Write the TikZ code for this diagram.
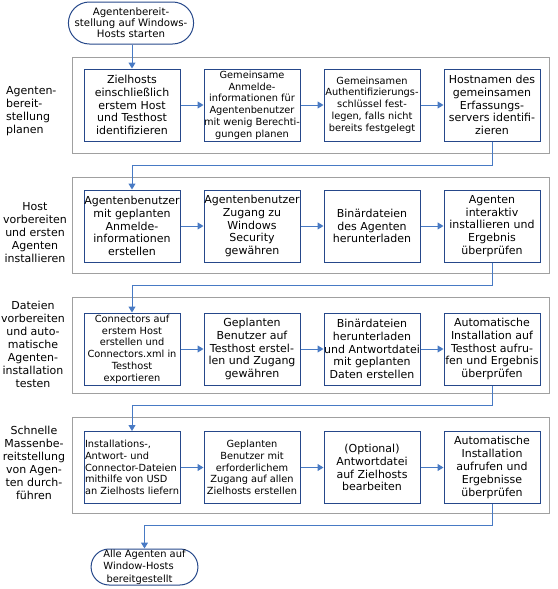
\documentclass[tikz,border=0pt]{standalone}
\usepackage{fontspec}
\setmainfont{DejaVu Sans}
\usetikzlibrary{arrows.meta,shapes.misc}

\definecolor{boxblue}{RGB}{38,72,138}
\definecolor{linkblue}{RGB}{72,122,196}
\definecolor{framegray}{RGB}{160,160,160}

\begin{document}
\begin{tikzpicture}[x=1pt,y=-1pt,
  stepbox/.style={draw=boxblue, line width=1pt, minimum width=96pt, minimum height=72pt, inner sep=0pt, align=center},
  bigtxt/.style={font=\fontsize{11}{12.8}\selectfont},
  smalltxt/.style={font=\fontsize{9.8}{11.8}\selectfont},
  frame/.style={draw=framegray, line width=1pt, minimum width=477pt, minimum height=96pt, inner sep=0pt},
  link/.style={draw=linkblue, line width=1pt, -{Triangle[length=6pt,width=7pt]}},
  terminal/.style={draw=boxblue, line width=1pt, rounded rectangle, inner sep=0pt, align=center},
  lane/.style={font=\fontsize{11}{13}\selectfont, inner sep=0pt}
]
\useasboundingbox (0,0) rectangle (557,589);

% frames
\node[frame] (f1) at (310.5,105) {};
\node[frame] (f2) at (310.5,225) {};
\node[frame] (f3) at (310.5,345) {};
\node[frame] (f4) at (310.5,465) {};

% lane labels
\node[lane, anchor=west, align=left] (l1) at (6,111) {Agenten-\\bereit-\\stellung\\planen};
\node[lane, align=center] (l2) at (35,233) {Host\\vorbereiten\\und ersten\\Agenten\\installieren};
\node[lane, align=center] (l3) at (33,344) {Dateien\\vorbereiten\\und auto-\\matische\\Agenten-\\installation\\testen};
\node[lane, align=center] (l4) at (34,463) {Schnelle\\Massenbe-\\reitstellung\\von Agen-\\ten durch-\\führen};

% terminals
\node[terminal, minimum width=116pt, minimum height=42pt, font=\fontsize{10.2}{11}\selectfont] (start) at (131,23) {Agentenbereit-\\stellung auf Windows-\\Hosts starten};
\node[terminal, minimum width=101pt, minimum height=36pt, align=left, font=\fontsize{9.9}{12.3}\selectfont] (end) at (144.5,567) {Alle Agenten auf\\Window-Hosts\\\ bereitgestellt};

% row 1
\node[stepbox, bigtxt] (b11) at (132,105) {Zielhosts\\einschließlich\\erstem Host\\und Testhost\\identifizieren};
\node[stepbox, smalltxt] (b12) at (252,105) {Gemeinsame\\Anmelde-\\informationen für\\Agentenbenutzer\\mit wenig Berechti-\\gungen planen};
\node[stepbox, smalltxt] (b13) at (372,105) {Gemeinsamen\\Authentifizierungs-\\schlüssel fest-\\legen, falls nicht\\bereits festgelegt};
\node[stepbox, bigtxt] (b14) at (492,105) {Hostnamen des\\gemeinsamen\\Erfassungs-\\servers identifi-\\zieren};

% row 2
\node[stepbox, bigtxt] (b21) at (132,226) {Agentenbenutzer\\mit geplanten\\Anmelde-\\informationen\\erstellen};
\node[stepbox, bigtxt] (b22) at (252,226) {Agentenbenutzer\\Zugang zu\\Windows\\Security\\gewähren};
\node[stepbox, bigtxt] (b23) at (372,226) {Binärdateien\\des Agenten\\herunterladen};
\node[stepbox, bigtxt] (b24) at (492,226) {Agenten\\interaktiv\\installieren und\\Ergebnis\\überprüfen};

% row 3
\node[stepbox, smalltxt] (b31) at (132,349) {Connectors auf\\erstem Host\\erstellen und\\Connectors.xml in\\Testhost\\exportieren};
\node[stepbox, bigtxt] (b32) at (252,349) {Geplanten\\Benutzer auf\\Testhost erstel-\\len und Zugang\\gewähren};
\node[stepbox, bigtxt] (b33) at (372,349) {Binärdateien\\herunterladen\\und Antwortdatei\\mit geplanten\\Daten erstellen};
\node[stepbox, bigtxt] (b34) at (492,349) {Automatische\\Installation auf\\Testhost aufru-\\fen und Ergebnis\\überprüfen};

% row 4
\node[stepbox, smalltxt, align=left] (b41) at (132,467.5) {Installations-,\\Antwort- und\\Connector-Dateien\\mithilfe von USD\\an Zielhosts liefern};
\node[stepbox, smalltxt] (b42) at (252,467.5) {Geplanten\\Benutzer mit\\erforderlichem\\Zugang auf allen\\Zielhosts erstellen};
\node[stepbox, bigtxt] (b43) at (372,467.5) {(Optional)\\Antwortdatei\\auf Zielhosts\\bearbeiten};
\node[stepbox, bigtxt] (b44) at (492,467.5) {Automatische\\Installation\\aufrufen und\\Ergebnisse\\überprüfen};

% bend points
\coordinate (k1) at (492,165);
\coordinate (k2) at (492,285);
\coordinate (k3) at (492,405);
\coordinate (k4) at (492,525);

% connectors
\draw[link] (start.south -| b11.north) -- (b11.north);
\foreach \r in {1,2,3,4}{
  \draw[link] (b\r1) -- (b\r2);
  \draw[link] (b\r2) -- (b\r3);
  \draw[link] (b\r3) -- (b\r4);
}
\draw[link] (b14.south) -- (k1) -| (b21.north);
\draw[link] (b24.south) -- (k2) -| (b31.north);
\draw[link] (b34.south) -- (k3) -| (b41.north);
\draw[link] (b44.south) -- (k4) -| (end.north);
\end{tikzpicture}
\end{document}
